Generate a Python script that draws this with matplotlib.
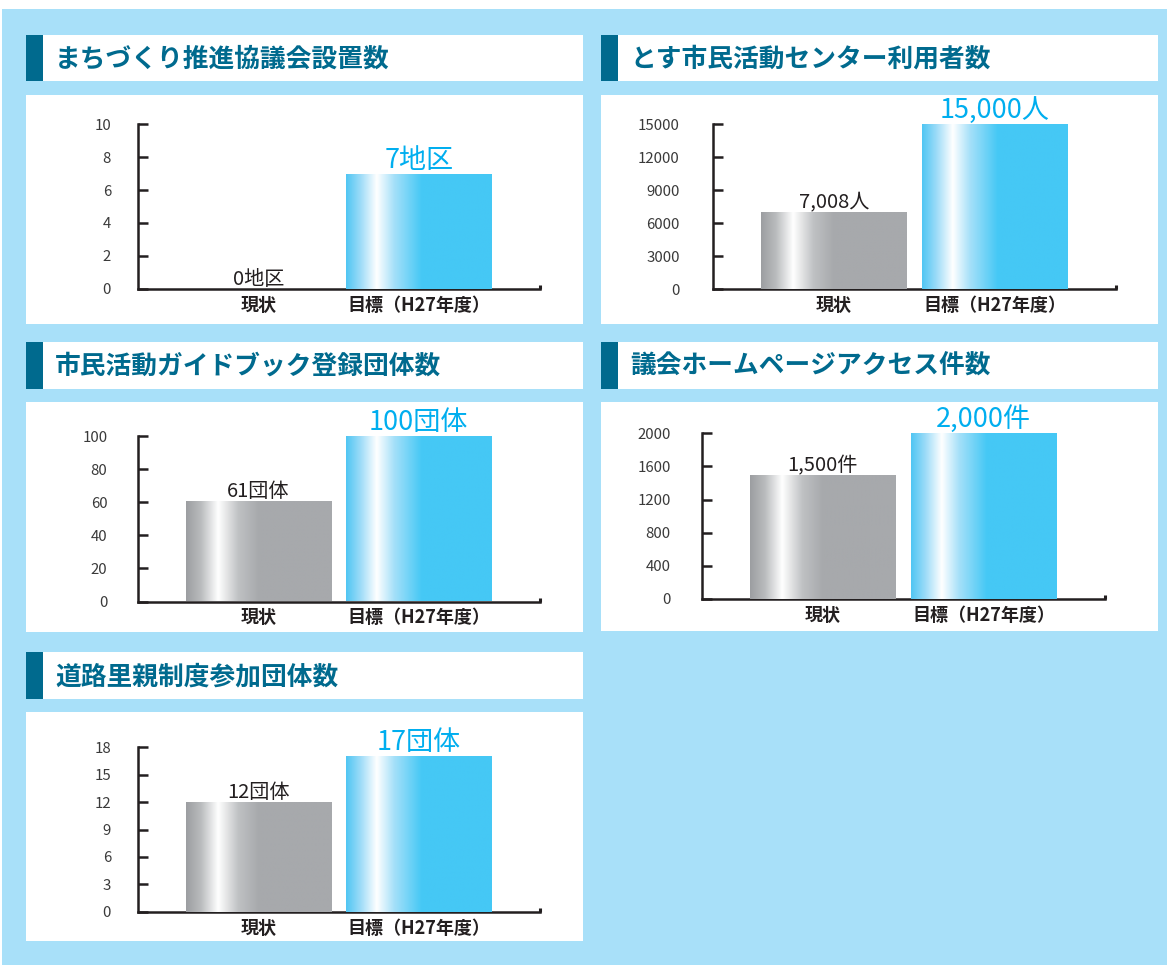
import numpy as np
import matplotlib
matplotlib.use("Agg")
import matplotlib.pyplot as plt
from matplotlib.patches import Rectangle
from matplotlib.colors import to_rgb

plt.rcParams["font.family"] = ["Noto Sans CJK JP", "DejaVu Sans"]

# ==========================================
# DATA
# ==========================================

titles = [
    "まちづくり推進協議会設置数",
    "とす市民活動センター利用者数",
    "市民活動ガイドブック登録団体数",
    "議会ホームページアクセス件数",
    "道路里親制度参加団体数",
]
categories = ["現状", "目標（H27年度）"]

current_vals = [0, 7008, 61, 1500, 12]
target_vals = [7, 15000, 100, 2000, 17]

current_labels = ["0地区", "7,008人", "61団体", "1,500件", "12団体"]
target_labels = ["7地区", "15,000人", "100団体", "2,000件", "17団体"]

y_ticks = [
    [0, 2, 4, 6, 8, 10],
    [0, 3000, 6000, 9000, 12000, 15000],
    [0, 20, 40, 60, 80, 100],
    [0, 400, 800, 1200, 1600, 2000],
    [0, 3, 6, 9, 12, 15, 18],
]

# ==========================================
# LAYOUT (pixels)
# ==========================================

W, H = 1167, 965
BG = "#a8e0f9"
DARK = "#006a8e"
CYAN_TXT = "#00aeef"
AXC = "#231f20"

# panel boxes: (x0, x1, title_y0, title_y1, box_y0, box_y1)
boxes = [
    (26, 583, 35, 81, 95, 324),
    (601, 1158, 35, 81, 95, 324),
    (26, 583, 342, 389, 402, 632),
    (601, 1158, 342, 389, 402, 631),
    (26, 583, 652, 699, 712, 941),
]
# axes: (left, right, top, bottom)
axes_px = [
    (138, 540, 124.3, 288.7),
    (713, 1116, 124.0, 289.3),
    (138, 540, 436.0, 601.5),
    (702, 1105, 433.3, 599.0),
    (138, 540, 747.3, 911.7),
]
label_pad = [19.5, 24, 22, 22.5, 19.5]

fig = plt.figure(figsize=(W / 100, H / 100), dpi=100)
fig.patch.set_facecolor("white")

bg = fig.add_axes([0, 0, 1, 1])
bg.set_xlim(0, W)
bg.set_ylim(H, 0)
bg.axis("off")
bg.add_patch(Rectangle((2, 9), W - 2, H - 9, color=BG, lw=0))

for (x0, x1, ty0, ty1, by0, by1), title in zip(boxes, titles):
    bg.add_patch(Rectangle((x0, ty0), x1 - x0, ty1 - ty0, color="white", lw=0))
    bg.add_patch(Rectangle((x0, ty0), 17, ty1 - ty0, color=DARK, lw=0))
    bg.add_patch(Rectangle((x0, by0), x1 - x0, by1 - by0, color="white", lw=0))
    bg.text(x0 + 29, (ty0 + ty1) / 2 + 1, title, fontsize=18.5, fontweight="bold",
            color=DARK, ha="left", va="center")


def gradient(stops, n=256):
    pos = [s[0] for s in stops]
    cols = np.array([to_rgb(s[1]) for s in stops])
    xs = np.linspace(0, 1, n)
    arr = np.stack([np.interp(xs, pos, cols[:, k]) for k in range(3)], axis=-1)
    return arr[np.newaxis, :, :]


gray_grad = gradient([(0, "#9c9ea1"), (0.1, "#b9bbbd"), (0.22, "#ffffff"),
                      (0.36, "#bfc1c3"), (0.5, "#a7a9ac"), (1, "#a7a9ac")])
cyan_grad = gradient([(0, "#50c6f3"), (0.1, "#9edcf8"), (0.21, "#ffffff"),
                      (0.33, "#a5e0f9"), (0.52, "#45c8f5"), (1, "#45c8f5")])

# ==========================================
# CHARTS
# ==========================================

for i in range(5):
    left, right, top, bottom = axes_px[i]
    ax = fig.add_axes([left / W, 1 - bottom / H, (right - left) / W, (bottom - top) / H])
    ax.patch.set_alpha(0)

    vals = [current_vals[i], target_vals[i]]
    bars = ax.bar([0, 1], vals, width=0.906, color="none", lw=0)
    for bar, grad in zip(bars, [gray_grad, cyan_grad]):
        if bar.get_height() <= 0:
            continue
        bx, by = bar.get_x(), bar.get_y()
        img = ax.imshow(grad, extent=(bx, bx + bar.get_width(), by, by + bar.get_height()),
                        aspect="auto", zorder=3, interpolation="bilinear")
        img.set_clip_path(bar)

    ax.set_xlim(-0.753, 1.757)
    ax.set_ylim(0, y_ticks[i][-1])
    ax.set_yticks(y_ticks[i])

    for side in ["top", "right"]:
        ax.spines[side].set_visible(False)
    for side in ["left", "bottom"]:
        ax.spines[side].set_linewidth(1.8)
        ax.spines[side].set_color(AXC)
        ax.spines[side].set_capstyle("projecting")

    ax.tick_params(axis="y", direction="in", length=7, width=1.8, color=AXC,
                   pad=label_pad[i], labelsize=10.8, labelcolor="#3a3a3a")
    ax.set_xticks([0, 1], categories, fontweight="bold")
    ax.tick_params(axis="x", length=0, pad=5, labelsize=13, labelcolor=AXC)

    # small end mark on the x axis
    ax.plot([1, 1], [0, 4 / (bottom - top)], transform=ax.transAxes, color=AXC,
            lw=2.2, clip_on=False, solid_capstyle="butt")

    ax.annotate(current_labels[i], (0, current_vals[i]), xytext=(0, -1),
                textcoords="offset points", ha="center", va="bottom",
                fontsize=14.5, color=AXC)
    ax.annotate(target_labels[i], (1, target_vals[i]), xytext=(0, 0),
                textcoords="offset points", ha="center", va="bottom",
                fontsize=19.5, color=CYAN_TXT)

plt.savefig("out.png", dpi=100)
